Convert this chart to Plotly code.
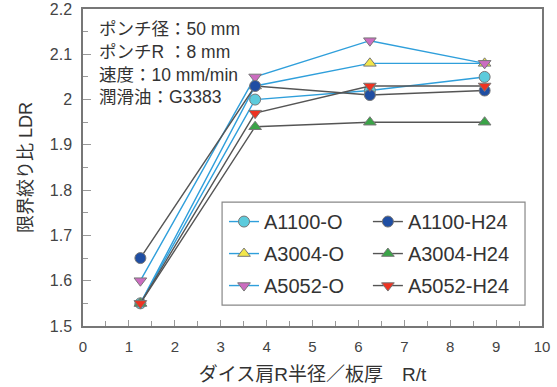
import plotly.graph_objects as go

x_rt = [1.25, 3.75, 6.25, 8.75]

a1100_o = [1.55, 2.00, 2.02, 2.05]
a3004_o = [1.55, 2.03, 2.08, 2.08]
a5052_o = [1.60, 2.05, 2.13, 2.08]
a1100_h24 = [1.65, 2.03, 2.01, 2.02]
a3004_h24 = [1.55, 1.94, 1.95, 1.95]
a5052_h24 = [1.55, 1.97, 2.03, 2.03]

y_tickvals = [1.5, 1.6, 1.7, 1.8, 1.9, 2.0, 2.1, 2.2]
y_ticktext = ["1.5", "1.6", "1.7", "1.8", "1.9", "2", "2.1", "2.2"]

FONT = "Liberation Sans, Arial, Noto Sans CJK JP, sans-serif"
BLUE_LINE = "#2f9fdb"
GREY_LINE = "#555555"

series = [
    # name, values, line colour, marker colour, symbol, legend id
    ("A1100-O", a1100_o, BLUE_LINE, "#5ccbdc", "circle", "legend"),
    ("A3004-O", a3004_o, BLUE_LINE, "#f2e64a", "triangle-up", "legend"),
    ("A5052-O", a5052_o, BLUE_LINE, "#cc6cc0", "triangle-down", "legend"),
    ("A1100-H24", a1100_h24, GREY_LINE, "#1f4ea3", "circle", "legend2"),
    ("A3004-H24", a3004_h24, GREY_LINE, "#3aa447", "triangle-up", "legend2"),
    ("A5052-H24", a5052_h24, GREY_LINE, "#ee3322", "triangle-down", "legend2"),
]

fig = go.Figure()
for name, vals, lc, mc, sym, leg in series:
    fig.add_trace(go.Scatter(
        x=x_rt, y=vals, mode="lines+markers",
        name=name, legend=leg, legendgroup=name,
        line=dict(color=lc, width=1.4),
        marker=dict(symbol=sym, size=11, color=mc,
                    line=dict(color="#777777", width=1)),
    ))

fig.add_annotation(
    xref="paper", yref="paper", x=0.03, y=0.975, xanchor="left", yanchor="top",
    align="left", showarrow=False,
    text="ポンチ径：50 mm<br>ポンチR ：8 mm<br>速度：10 mm/min<br>潤滑油：G3383",
    font=dict(family=FONT, size=17.5, color="#333333"),
)

# legend frame
fig.add_shape(type="rect", xref="paper", yref="paper",
              x0=0.303, x1=0.963, y0=0.066, y1=0.391,
              line=dict(color="#888888", width=1.2), fillcolor="white",
              layer="below")

axis_common = dict(
    showgrid=False, zeroline=False, showline=True, linecolor="#777777",
    linewidth=1.5, mirror=True, ticks="inside", tickcolor="#999999",
    automargin=False, ticklabelstandoff=6, ticklabeloverflow="allow",
)

fig.update_xaxes(
    range=[0, 10], dtick=1, tick0=0, ticklen=6,
    minor=dict(dtick=0.5, ticks="inside", ticklen=5, tickcolor="#999999"),
    tickfont=dict(family=FONT, size=15, color="#444444"),
    title=dict(text="ダイス肩R半径／板厚　R/t", standoff=14,
               font=dict(family=FONT, size=19, color="#333333")),
    **axis_common,
)
fig.update_yaxes(
    range=[1.5, 2.2], tickmode="array", tickvals=y_tickvals,
    ticktext=y_ticktext, ticklen=8,
    minor=dict(dtick=0.05, tick0=1.5, ticks="inside", ticklen=5,
               tickcolor="#999999"),
    tickfont=dict(family=FONT, size=16, color="#444444"),
    title=dict(text="限界絞り比 LDR", standoff=12,
               font=dict(family=FONT, size=18, color="#333333")),
    **axis_common,
)

legend_common = dict(
    orientation="v", yanchor="top", xanchor="left",
    bgcolor="rgba(0,0,0,0)", borderwidth=0, tracegroupgap=3,
    font=dict(family=FONT, size=20, color="#333333"),
)

fig.update_layout(
    width=557, height=387,
    margin=dict(l=83, r=15, t=9, b=61),
    plot_bgcolor="white", paper_bgcolor="white",
    font=dict(family=FONT, color="#333333"),
    showlegend=True,
    legend=dict(x=0.3072, y=0.391, **legend_common),
    legend2=dict(x=0.6207, y=0.391, **legend_common),
)

# remove the browser's default 8px body margin so the figure fills the window
fig.write_html("out.html", config={"displayModeBar": False},
               post_script="document.body.style.margin='0';")
